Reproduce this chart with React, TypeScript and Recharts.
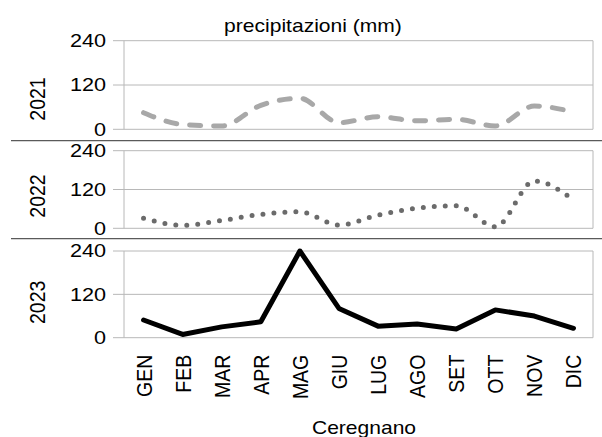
import { LineChart, Line, XAxis, YAxis, CartesianGrid } from "recharts";

const months = ["GEN", "FEB", "MAR", "APR", "MAG", "GIU", "LUG", "AGO", "SET", "OTT", "NOV", "DIC"];
const rain2021 = [45, 13, 9, 65, 84, 18, 34, 23, 27, 9, 63, 47];
const rain2022 = [31, 9, 24, 43, 51, 10, 41, 62, 70, 5, 146, 88];
const rain2023 = [49, 9, 30, 44, 240, 81, 32, 38, 24, 77, 60, 26];
const yTicks = [0, 120, 240];
const edgeTicks = [0, 1, 2, 3, 4, 5, 6, 7, 8, 9, 10, 11, 12];
const innerTicks = [1, 2, 3, 4, 5, 6, 7, 8, 9, 10, 11];
const labelTicks = [0.5, 1.5, 2.5, 3.5, 4.5, 5.5, 6.5, 7.5, 8.5, 9.5, 10.5, 11.5];

const rows = months.map((m, i) => ({
  x: i + 0.5,
  month: m,
  y2021: rain2021[i],
  y2022: rain2022[i],
  y2023: rain2023[i],
}));

const W = 602;
const H = 437;
const FONT = "'Liberation Sans', Arial, sans-serif";
const SX = 1.17; // the reference text is a bit wider than it is tall
const GRID = "#b8b8b8";

type Panel = {
  key: string;
  name: string;
  top: number;
  bottom: number;
  innerTick: number;
  stroke: string;
  dash?: string;
  curve: "monotone" | "linear";
  labelDy: number;
  months?: boolean;
};

const panels: Panel[] = [
  { key: "y2021", name: "2021", top: 40.7, bottom: 129.3, innerTick: 21.4, stroke: "#a8a8a8", dash: "11 13", curve: "monotone", labelDy: 14 },
  { key: "y2022", name: "2022", top: 150.7, bottom: 228.3, innerTick: 22.7, stroke: "#6b6b6b", dash: "0 11", curve: "monotone", labelDy: 6.5 },
  { key: "y2023", name: "2023", top: 251, bottom: 337.7, innerTick: 32.3, stroke: "#000000", curve: "linear", labelDy: 8, months: true },
];

function YTick(props: any) {
  const { x, y, payload } = props;
  return (
    <g transform={`translate(${x},${y}) scale(${SX},1)`}>
      <text textAnchor="end" dy="0.35em" fontSize={18.5} fontFamily={FONT} fill="#000">
        {payload.value}
      </text>
    </g>
  );
}

function MonthTick(props: any) {
  const { x, y, payload } = props;
  const name = months[Math.floor(payload.value)];
  return (
    <g transform={`translate(${x},${y})`}>
      <text transform={`scale(${SX},1) rotate(-90)`} textAnchor="end" dy="0.35em" fontSize={19.5} fontFamily={FONT} fill="#000">
        {name}
      </text>
    </g>
  );
}

function yearLabel(name: string, dy: number) {
  return (p: any) => {
    const vb = p.viewBox || {};
    const cy = (vb.y || 0) + (vb.height || 0) / 2 + dy;
    return (
      <g transform={`translate(37,${cy})`}>
        <text transform={`scale(${SX},1) rotate(-90)`} textAnchor="middle" dy="0.35em" fontSize={19.5} fontFamily={FONT} fill="#000">
          {name}
        </text>
      </g>
    );
  };
}

function PanelChart({ p }: { p: Panel }) {
  const axisCount = p.months ? 3 : 2;
  return (
    <div style={{ position: "absolute", left: 0, top: 0 }}>
      <LineChart
        width={W}
        height={H}
        data={rows}
        margin={{ top: p.top, right: 9, left: 0, bottom: H - p.bottom - axisCount }}
      >
        <CartesianGrid stroke={GRID} xAxisId="g" ticks={edgeTicks} />
        <XAxis
          xAxisId="g"
          dataKey="x"
          type="number"
          domain={[0, 12]}
          ticks={edgeTicks}
          interval={0}
          tick={false}
          tickLine={{ stroke: GRID }}
          tickSize={p.bottom < 140 ? 11.4 : 10.2}
          axisLine={false}
          height={1}
        />
        <XAxis
          xAxisId="i"
          dataKey="x"
          type="number"
          domain={[0, 12]}
          ticks={innerTicks}
          interval={0}
          tick={false}
          tickLine={{ stroke: GRID }}
          tickSize={p.innerTick - 1}
          axisLine={false}
          height={1}
        />
        {p.months && (
          <XAxis
            xAxisId="m"
            dataKey="x"
            type="number"
            domain={[0, 12]}
            ticks={labelTicks}
            interval={0}
            tick={<MonthTick />}
            tickLine={false}
            tickSize={0}
            tickMargin={15}
            axisLine={false}
            height={1}
          />
        )}
        <YAxis
          domain={[0, 240]}
          ticks={yTicks}
          interval={0}
          width={124}
          tick={<YTick />}
          tickLine={{ stroke: GRID }}
          tickSize={11}
          tickMargin={7}
          axisLine={false}
          label={yearLabel(p.name, p.labelDy)}
        />
        <Line
          xAxisId="g"
          dataKey={p.key}
          type={p.curve}
          stroke={p.stroke}
          strokeWidth={5}
          strokeDasharray={p.dash}
          strokeLinecap="round"
          strokeLinejoin="round"
          dot={false}
          activeDot={false}
          isAnimationActive={false}
        />
      </LineChart>
    </div>
  );
}

export default function App() {
  return (
    <div style={{ position: "absolute", left: 0, top: 0, width: W, height: H, background: "#fff" }}>
      {panels.map((p) => (
        <PanelChart key={p.key} p={p} />
      ))}
      <svg width={W} height={H} style={{ position: "absolute", left: 0, top: 0, pointerEvents: "none" }}>
        <line x1={11} x2={W} y1={140.7} y2={140.7} stroke="#5a5a5a" strokeWidth={1.2} />
        <line x1={11} x2={W} y1={238.7} y2={238.7} stroke="#5a5a5a" strokeWidth={1.2} />
        <g transform={`translate(313,31.5) scale(${SX},1)`}>
          <text textAnchor="middle" fontSize={18} fontFamily={FONT} fill="#000">
            precipitazioni (mm)
          </text>
        </g>
        <g transform={`translate(364,434) scale(${SX},1)`}>
          <text textAnchor="middle" fontSize={18} fontFamily={FONT} fill="#000">
            Ceregnano
          </text>
        </g>
      </svg>
    </div>
  );
}
